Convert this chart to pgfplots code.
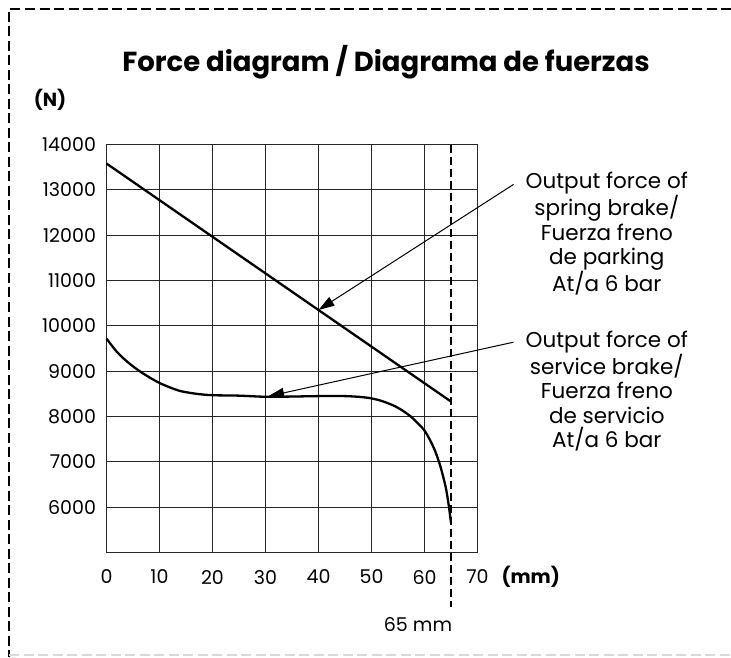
\documentclass[border=0pt]{standalone}
\usepackage{pgfplots}
\pgfplotsset{compat=1.18}
\usetikzlibrary{arrows.meta}
\usepackage{fontspec}
\setmainfont{Poppins}
\begin{document}
\begin{tikzpicture}[x=1pt,y=1pt]
\useasboundingbox (0,0) rectangle (731,657);
% outer dashed frame
\draw[black, line width=1.3pt, dash pattern=on 10pt off 4.5pt] (731,648) -- (9,648) -- (9,0);
\draw[black!15, line width=1.3pt, dash pattern=on 10pt off 4.5pt] (9,2) -- (731,2);
% title and unit labels
\node[font=\fontsize{27.5}{32}\selectfont\bfseries] at (386,595) {Force diagram / Diagrama de fuerzas};
\node[font=\fontsize{19}{22}\selectfont\bfseries] at (50,557) {(N)};
\node[font=\fontsize{19}{22}\selectfont\bfseries, anchor=west] at (498,80) {(mm)};
\node[font=\fontsize{19}{22}\selectfont] at (418,32) {65 mm};
\begin{axis}[
  at={(106.5pt,104.5pt)}, anchor=south west,
  scale only axis, width=371pt, height=408pt,
  xmin=0, xmax=70, ymin=5000, ymax=14000,
  xtick={0,10,...,70}, ytick={6000,7000,...,14000},
  scaled y ticks=false, scaled x ticks=false,
  grid=major,
  major grid style={black!85, line width=1.1pt},
  axis line style={black!85, line width=1.1pt},
  major tick length=0pt,
  tick label style={font=\fontsize{19}{22}\selectfont},
  xticklabel style={yshift=-14pt},
  yticklabel style={xshift=-7pt},
  /pgf/number format/1000 sep={},
  /pgf/number format/assume math mode=true,
  clip=false,
]
% 65 mm reference line
\draw[black, line width=1.3pt, dash pattern=on 8pt off 4pt] (axis cs:65,14000) -- (axis cs:65,3800);
% spring brake output force
\addplot[black, line width=2.3pt] coordinates {(0,13580) (65,8330)};
% service brake output force
\addplot[black, line width=2.3pt, smooth, tension=0.5] coordinates {
(0,9720) (2,9420) (4,9200) (6,9020) (8,8870) (10,8740) (12,8640) (14,8560)
(17,8500) (20,8470) (25,8460) (30,8435) (35,8440) (40,8450) (45,8450)
(48,8430) (50,8400) (52,8340) (54,8250) (55,8190) (56,8120) (57.5,7990)
(59,7820) (60,7690) (61,7490) (62,7240) (63,6900) (64,6440) (64.6,6020) (65,5650)};
% callouts
\draw[black, line width=1pt, -{Triangle[length=16pt,width=10pt]}] (axis cs:76.8,13120) -- (axis cs:40,10350);
\draw[black, line width=1pt, -{Triangle[length=16pt,width=10pt]}] (axis cs:76.8,9640) -- (axis cs:30.5,8445);
\node[align=center, font=\fontsize{21.5}{24.3}\selectfont] at (axis cs:94.4,12030)
  {Output force of\\spring brake/\\Fuerza freno\\de parking\\At/a 6 bar};
\node[align=center, font=\fontsize{21.5}{24.3}\selectfont] at (axis cs:94.4,8560)
  {Output force of\\service brake/\\Fuerza freno\\de servicio\\At/a 6 bar};
\end{axis}
\end{tikzpicture}
\end{document}
